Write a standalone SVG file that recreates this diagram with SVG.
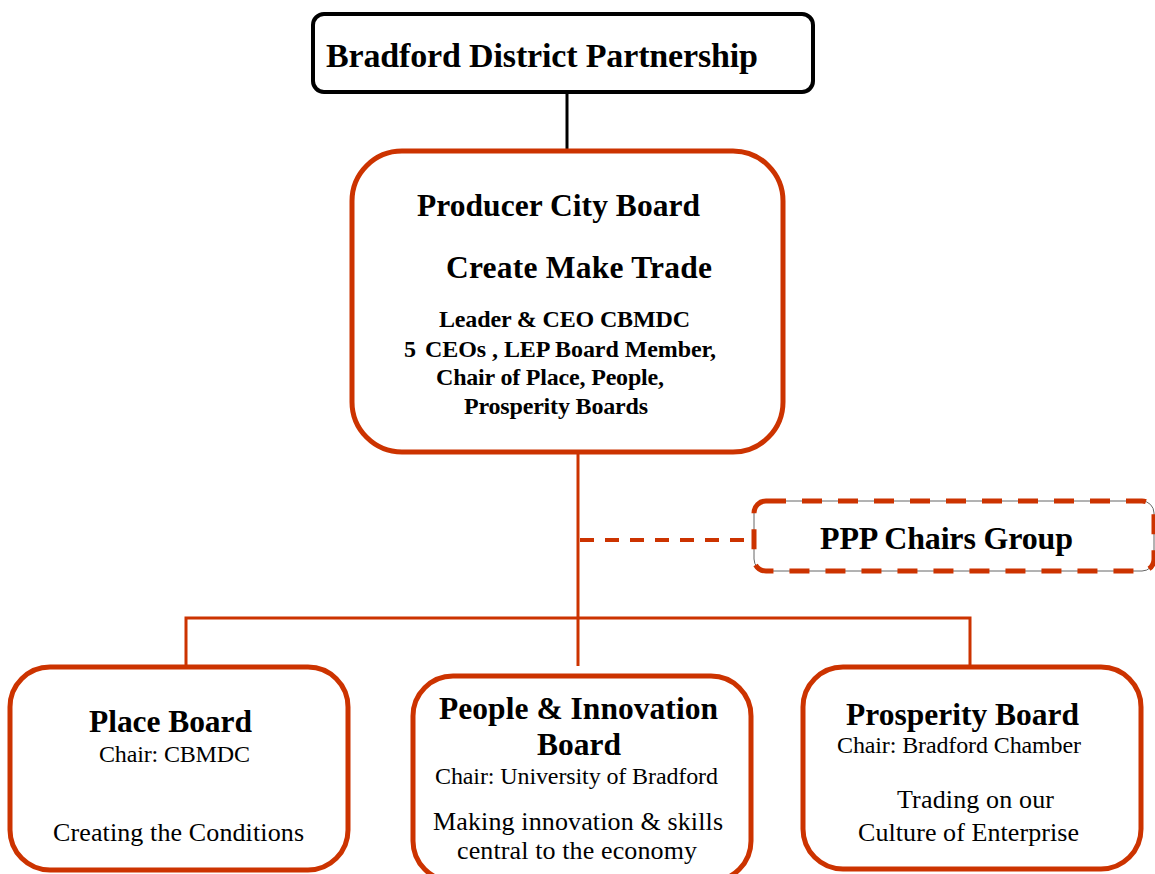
<svg xmlns="http://www.w3.org/2000/svg" width="1155" height="874" viewBox="0 0 1155 874">
<style>
.box{fill:#fff;stroke:#CC3300;stroke-width:5}
.t{font-family:"Liberation Serif","Times New Roman",serif;fill:#000}
.b{font-weight:bold}
.h{font-size:31.5px}
.s{font-size:24px}
.m{font-size:26px}
.c{stroke:#CC3300;stroke-width:3;fill:none}
</style>
<rect width="1155" height="874" fill="#fff"/>
<g id="connectors">
<line x1="567" y1="92" x2="567" y2="150" stroke="#000" stroke-width="3"/>
<line class="c" x1="578" y1="452" x2="578" y2="666"/>
<line x1="580" y1="540" x2="752" y2="540" stroke="#CC3300" stroke-width="4" stroke-dasharray="14 11"/>
<polyline class="c" points="186,667 186,618 970,618 970,667"/>
</g>
<g id="bdp">
<rect x="313" y="14" width="500" height="78" rx="11" fill="#fff" stroke="#000" stroke-width="4"/>
<text class="t b" x="326" y="67" font-size="34" textLength="432">Bradford District Partnership</text>
</g>
<g id="producer">
<rect class="box" x="352" y="151" width="431" height="301" rx="50"/>
<text class="t b h" x="417" y="216" textLength="283">Producer City Board</text>
<text class="t b h" x="446" y="278" textLength="266">Create Make Trade</text>
<text class="t b s" x="439" y="327" textLength="251">Leader &amp; CEO CBMDC</text>
<text class="t b s" y="357"><tspan x="404">5</tspan><tspan x="425" textLength="291">CEOs , LEP Board Member,</tspan></text>
<text class="t b s" x="436" y="385" textLength="228">Chair of Place, People,</text>
<text class="t b s" x="464" y="414" textLength="184">Prosperity Boards</text>
</g>
<g id="ppp">
<rect x="754" y="501" width="400" height="70" rx="12" fill="#fff" stroke="#666" stroke-width="1"/>
<rect x="754" y="501" width="400" height="70" rx="12" fill="none" stroke="#CC3300" stroke-width="5" stroke-dasharray="20 16"/>
<text class="t b" x="820" y="549" font-size="32" textLength="253">PPP Chairs Group</text>
</g>
<g id="place">
<rect class="box" x="10" y="667" width="338" height="203" rx="40"/>
<text class="t b h" x="89" y="732" textLength="163">Place Board</text>
<text class="t s" x="99" y="762" textLength="151">Chair: CBMDC</text>
<text class="t m" x="53" y="841" textLength="251">Creating the Conditions</text>
</g>
<g id="people">
<rect class="box" x="413" y="676" width="338" height="205" rx="40"/>
<text class="t b h" x="439" y="719" textLength="279">People &amp; Innovation</text>
<text class="t b h" x="537" y="755" textLength="84">Board</text>
<text class="t s" x="435" y="784" textLength="283">Chair: University of Bradford</text>
<text class="t m" x="433" y="830" textLength="290">Making innovation &amp; skills</text>
<text class="t m" x="457" y="859" textLength="240">central to the economy</text>
</g>
<g id="prosperity">
<rect class="box" x="803" y="667" width="338" height="202" rx="40"/>
<text class="t b h" x="846" y="725" textLength="233">Prosperity Board</text>
<text class="t s" x="837" y="753" textLength="244">Chair: Bradford Chamber</text>
<text class="t m" x="897" y="808" textLength="157">Trading on our</text>
<text class="t m" x="858" y="841" textLength="221">Culture of Enterprise</text>
</g>
</svg>
